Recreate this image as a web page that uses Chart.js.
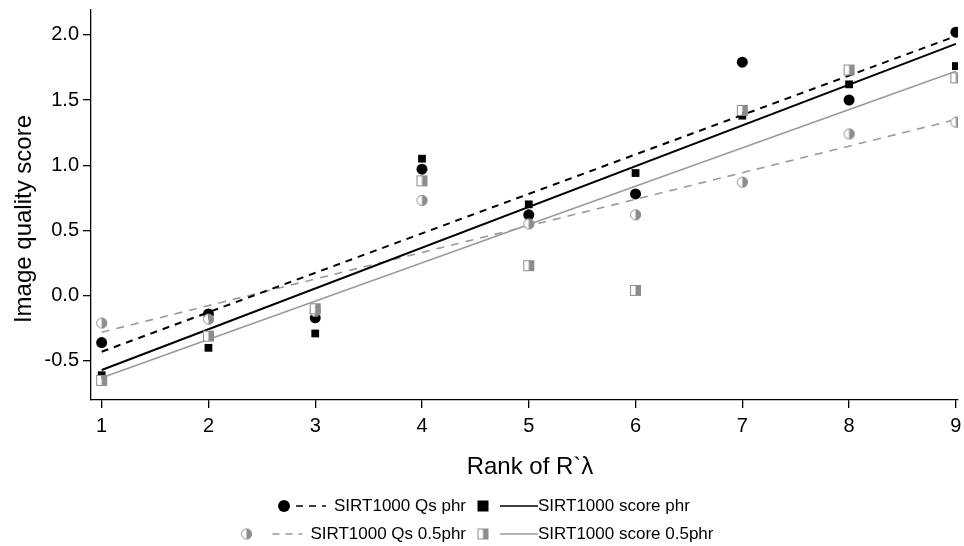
<!DOCTYPE html>
<html>
<head>
<meta charset="utf-8">
<script src="https://cdn.jsdelivr.net/npm/chart.js@4.4.1/dist/chart.umd.min.js"></script>
<style>
html,body{margin:0;padding:0;background:#fff;}
#wrap{position:relative;width:964px;height:546px;}
</style>
</head>
<body>
<div id="wrap"><canvas id="c" width="964" height="546"></canvas></div>
<script>
// ---- data ----
const ranks = [1, 2, 3, 4, 5, 6, 7, 8, 9];
const qsPhr      = [-0.36, -0.14, -0.17, 0.97, 0.62, 0.78, 1.79, 1.50, 2.02];
const scorePhr   = [-0.61, -0.40, -0.29, 1.05, 0.70, 0.94, 1.38, 1.62, 1.76];
const qsHalf     = [-0.21, -0.18, -0.12, 0.73, 0.55, 0.62, 0.87, 1.24, 1.33];
const scoreHalf  = [-0.65, -0.31, -0.10, 0.88, 0.23, 0.04, 1.42, 1.73, 1.67];
// fitted line end values (at rank 1 and rank 9)
const fitX         = [1, 9];
const fitQsPhr     = [-0.43, 1.99];
const fitScorePhr  = [-0.57, 1.93];
const fitQsHalf    = [-0.28, 1.35];
const fitScoreHalf = [-0.63, 1.72];
const yTicks = [-0.5, 0.0, 0.5, 1.0, 1.5, 2.0];
const xTicks = [1, 2, 3, 4, 5, 6, 7, 8, 9];
const labels = ['SIRT1000 Qs phr', 'SIRT1000 score phr', 'SIRT1000 Qs 0.5phr', 'SIRT1000 score 0.5phr'];
const xTitle = 'Rank of R`\u03bb';
const yTitle = 'Image quality score';

const GRAY = '#8c8c8c';
const LGRAY = '#9a9a9a';
const FONT = '"Liberation Sans", Arial, sans-serif';

function pts(ys){ return ys.map((y,i)=>({x:ranks[i], y:y})); }
function fit(ys){ return ys.map((y,i)=>({x:fitX[i], y:y})); }

function halfCircle(r){
  const c=document.createElement('canvas'); const s=Math.ceil(2*r+2); c.width=s; c.height=s;
  const g=c.getContext('2d'); const m=s/2;
  g.fillStyle='#fff'; g.beginPath(); g.arc(m,m,r,Math.PI/2,3*Math.PI/2); g.fill();
  g.fillStyle=GRAY; g.beginPath(); g.arc(m,m,r,-Math.PI/2,Math.PI/2); g.fill();
  g.strokeStyle=GRAY; g.lineWidth=1; g.beginPath(); g.arc(m,m,r-0.5,0,2*Math.PI); g.stroke();
  return c;
}
function halfSquare(a){
  const c=document.createElement('canvas'); const s=Math.ceil(a+2); c.width=s; c.height=s;
  const g=c.getContext('2d'); const o=(s-a)/2;
  g.fillStyle='#fff'; g.fillRect(o,o,a/2,a);
  g.fillStyle=GRAY; g.fillRect(o+a/2,o,a/2,a);
  g.strokeStyle=GRAY; g.lineWidth=1; g.strokeRect(o+0.5,o+0.5,a-1,a-1);
  return c;
}
const hc = halfCircle(5.5);
const hs = halfSquare(11);

const ptDs = (data, style, color, r) => ({type:'scatter', data, showLine:false, pointStyle:style,
  pointRadius:r, pointHoverRadius:r, backgroundColor:color, borderColor:color, borderWidth:0});
const lnDs = (data, color, w, dash) => ({type:'scatter', data, showLine:true, pointRadius:0,
  borderColor:color, borderWidth:w, borderDash:dash, fill:false});

const datasets = [
  ptDs(pts(scoreHalf), hs, GRAY, 6),
  ptDs(pts(qsHalf), hc, GRAY, 6),
  ptDs(pts(scorePhr), 'rect', '#000', 5.5),
  ptDs(pts(qsPhr), 'circle', '#000', 5.5),
  lnDs(fit(fitQsPhr), '#000', 2, [7,6]),
  lnDs(fit(fitScorePhr), '#000', 2, []),
  lnDs(fit(fitQsHalf), LGRAY, 1.6, [8,7]),
  lnDs(fit(fitScoreHalf), LGRAY, 1.6, []),
];

const overlay = {
  id:'overlay',
  afterDraw(chart){
    const ctx=chart.ctx; ctx.save();
    ctx.fillStyle='#000'; ctx.textBaseline='middle';
    ctx.font='24px '+FONT; ctx.textAlign='center';
    const ca=chart.chartArea;
    ctx.fillText(xTitle, 530, 467);
    ctx.save(); ctx.translate(24, 219); ctx.rotate(-Math.PI/2); ctx.fillText(yTitle,0,0); ctx.restore();
    ctx.font='17px '+FONT;
    const rows=[506,534];
    function line(x1,x2,y,color,w,dash){ctx.save();ctx.strokeStyle=color;ctx.lineWidth=w;ctx.setLineDash(dash);ctx.beginPath();ctx.moveTo(x1,y);ctx.lineTo(x2,y);ctx.stroke();ctx.restore();}
    ctx.textAlign='right';
    const tEnd=466;
    [[0,'circle'],[2,'half']].forEach(([li,kind],ri)=>{
      const y=rows[ri]; const w=ctx.measureText(labels[li]).width; const ts=tEnd-w;
      ctx.fillText(labels[li], tEnd, y);
      const col = ri===0?'#000':LGRAY;
      line(ts-38, ts-8, y, col, ri===0?1.6:1.4, [7,6]);
      const mx = ri===0 ? ts-50 : ts-64;
      if(kind==='circle'){ctx.fillStyle='#000';ctx.beginPath();ctx.arc(mx,y,6,0,2*Math.PI);ctx.fill();}
      else ctx.drawImage(hc, mx-hc.width/2, y-hc.height/2);
      ctx.fillStyle='#000';
    });
    ctx.textAlign='left';
    const ts2=538;
    ctx.fillText(labels[1], ts2, rows[0]);
    ctx.fillText(labels[3], ts2, rows[1]);
    line(500,538,rows[0],'#000',1.6,[]);
    line(500,538,rows[1],LGRAY,1.4,[]);
    ctx.fillStyle='#000'; ctx.fillRect(483-5.5, rows[0]-5.5, 11, 11);
    ctx.drawImage(hs, 483-hs.width/2, rows[1]-hs.height/2);
    ctx.restore();
  }
};

new Chart(document.getElementById('c'), {
  data:{datasets},
  options:{
    responsive:false, animation:false, events:[],
    layout:{padding:{left:0,top:10,right:2,bottom:0}},
    plugins:{legend:{display:false}, tooltip:{enabled:false}},
    scales:{
      x:{type:'linear', min:0.9, max:9.02,
        afterBuildTicks(s){ s.ticks = xTicks.map(v=>({value:v})); },
        afterFit(s){ s.height = 146; s.paddingLeft = 0; s.paddingRight = 0; },
        grid:{display:true, drawOnChartArea:false, drawTicks:true, tickLength:8, color:'#000', lineWidth:1.3},
        border:{display:true, color:'#000', width:1.3},
        ticks:{color:'#000', font:{family:FONT,size:20}, padding:6, maxRotation:0, callback:v=>String(v)}
      },
      y:{type:'linear', min:-0.8, max:2.19,
        afterBuildTicks(s){ s.ticks = yTicks.map(v=>({value:v})); },
        afterFit(s){ s.width = 91; s.paddingTop = 0; s.paddingBottom = 0; },
        grid:{display:true, drawOnChartArea:false, drawTicks:true, tickLength:8, color:'#000', lineWidth:1.3},
        border:{display:true, color:'#000', width:1.3},
        ticks:{color:'#000', font:{family:FONT,size:20}, padding:4, callback:v=>v.toFixed(1)}
      }
    }
  },
  plugins:[overlay]
});
</script>
</body>
</html>
